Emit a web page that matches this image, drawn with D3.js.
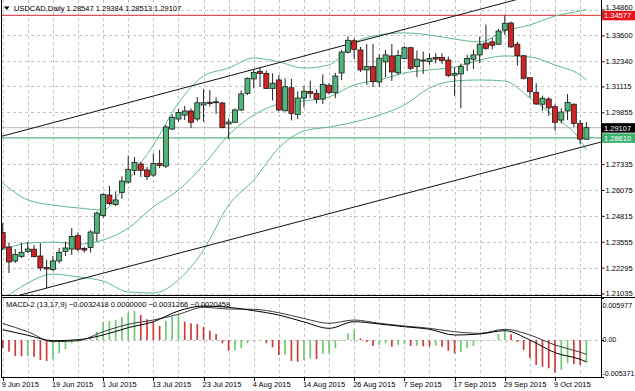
<!DOCTYPE html>
<html>
<head>
<meta charset="utf-8">
<script src="https://cdn.jsdelivr.net/npm/d3@7"></script>
<style>
    body { margin: 0; background: #fff; }
    svg { display: block; font-family: "Liberation Sans", Arial, sans-serif; font-size: 7.5px; }
    .grid line { stroke: #c4c4c4; stroke-dasharray: 3,3; shape-rendering: crispEdges; }
    .frame line { stroke: #000; shape-rendering: crispEdges; }
</style>
</head>
<body>
<svg id="chart" width="635" height="391"></svg>
<script>
// daily bars 2015: date, open, high, low, close
const bars = [
    ["06-09",1.2400,1.2447,1.2315,1.2325], ["06-10",1.2330,1.2349,1.2203,1.2257],
    ["06-11",1.2262,1.2320,1.2252,1.2293], ["06-12",1.2284,1.2349,1.2276,1.2304],
    ["06-15",1.2308,1.2354,1.2301,1.2320], ["06-16",1.2319,1.2340,1.2279,1.2283],
    ["06-17",1.2286,1.2349,1.2213,1.2228], ["06-18",1.2230,1.2267,1.2128,1.2223],
    ["06-19",1.2220,1.2286,1.2213,1.2262], ["06-22",1.2262,1.2325,1.2250,1.2304],
    ["06-23",1.2308,1.2357,1.2286,1.2325], ["06-24",1.2320,1.2422,1.2291,1.2381],
    ["06-25",1.2385,1.2400,1.2308,1.2319], ["06-26",1.2323,1.2331,1.2303,1.2315],
    ["06-29",1.2327,1.2411,1.2303,1.2403], ["06-30",1.2397,1.2502,1.2357,1.2495],
    ["07-01",1.2483,1.2591,1.2471,1.2585], ["07-02",1.2583,1.2628,1.2534,1.2541],
    ["07-03",1.2537,1.2600,1.2529,1.2559], ["07-06",1.2596,1.2674,1.2564,1.2651],
    ["07-07",1.2646,1.2775,1.2638,1.2708], ["07-08",1.2703,1.2768,1.2680,1.2742],
    ["07-09",1.2734,1.2744,1.2671,1.2703], ["07-10",1.2705,1.2719,1.2656,1.2673],
    ["07-13",1.2680,1.2785,1.2671,1.2736], ["07-14",1.2737,1.2802,1.2714,1.2727],
    ["07-15",1.2724,1.2924,1.2714,1.2914], ["07-16",1.2904,1.2975,1.2899,1.2961],
    ["07-17",1.2953,1.3002,1.2940,1.2985], ["07-20",1.2972,1.3016,1.2948,1.2992],
    ["07-21",1.2992,1.3004,1.2909,1.2937], ["07-22",1.2953,1.3060,1.2943,1.3032],
    ["07-23",1.3021,1.3098,1.2940,1.3032], ["07-24",1.3034,1.3094,1.3014,1.3032],
    ["07-27",1.3032,1.3058,1.2977,1.3037], ["07-28",1.3031,1.3036,1.2907,1.2912],
    ["07-29",1.2929,1.2955,1.2856,1.2938], ["07-30",1.2937,1.3005,1.2933,1.2997],
    ["07-31",1.2997,1.3092,1.2992,1.3075], ["08-03",1.3078,1.3155,1.3070,1.3151],
    ["08-04",1.3148,1.3196,1.3102,1.3179], ["08-05",1.3185,1.3206,1.3109,1.3175],
    ["08-06",1.3175,1.3189,1.3099,1.3102], ["08-07",1.3102,1.3175,1.3043,1.3127],
    ["08-10",1.3143,1.3167,1.2990,1.2997], ["08-11",1.2993,1.3151,1.2990,1.3110],
    ["08-12",1.3105,1.3148,1.2946,1.2980], ["08-13",1.2975,1.3087,1.2952,1.3055],
    ["08-14",1.3055,1.3114,1.3009,1.3088], ["08-17",1.3087,1.3140,1.3054,1.3078],
    ["08-18",1.3078,1.3097,1.3029,1.3049], ["08-19",1.3050,1.3170,1.3026,1.3122],
    ["08-20",1.3117,1.3128,1.3073,1.3081], ["08-21",1.3081,1.3177,1.3055,1.3162],
    ["08-24",1.3177,1.3289,1.3143,1.3279], ["08-25",1.3278,1.3355,1.3272,1.3336],
    ["08-26",1.3334,1.3346,1.3244,1.3292], ["08-27",1.3289,1.3304,1.3182,1.3192],
    ["08-28",1.3192,1.3318,1.3119,1.3208], ["08-31",1.3208,1.3318,1.3109,1.3135],
    ["09-01",1.3133,1.3269,1.3110,1.3249], ["09-02",1.3231,1.3289,1.3157,1.3265],
    ["09-03",1.3260,1.3318,1.3138,1.3182], ["09-04",1.3178,1.3289,1.3167,1.3262],
    ["09-07",1.3247,1.3308,1.3243,1.3300], ["09-08",1.3300,1.3304,1.3192,1.3200],
    ["09-09",1.3208,1.3286,1.3156,1.3244], ["09-10",1.3239,1.3281,1.3172,1.3240],
    ["09-11",1.3232,1.3273,1.3216,1.3248], ["09-14",1.3252,1.3273,1.3224,1.3245],
    ["09-15",1.3252,1.3273,1.3221,1.3238], ["09-16",1.3240,1.3256,1.3157,1.3165],
    ["09-17",1.3166,1.3204,1.3065,1.3175], ["09-18",1.3172,1.3223,1.3005,1.3208],
    ["09-21",1.3221,1.3265,1.3187,1.3247], ["09-22",1.3244,1.3291,1.3196,1.3265],
    ["09-23",1.3265,1.3354,1.3226,1.3317], ["09-24",1.3322,1.3413,1.3289,1.3297],
    ["09-25",1.3328,1.3347,1.3291,1.3312], ["09-28",1.3317,1.3391,1.3313,1.3381],
    ["09-29",1.3386,1.34577,1.3362,1.3419], ["09-30",1.3420,1.3427,1.3299,1.3304],
    ["10-01",1.3317,1.3329,1.3213,1.3261], ["10-02",1.3261,1.3265,1.3145,1.3151],
    ["10-05",1.3154,1.3157,1.3059,1.3086], ["10-06",1.3083,1.3127,1.3021,1.3026],
    ["10-07",1.3025,1.3067,1.2993,1.3054], ["10-08",1.3050,1.3060,1.2968,1.3007],
    ["10-09",1.3013,1.3024,1.2896,1.2937], ["10-12",1.2948,1.3005,1.2931,1.2987],
    ["10-13",1.2992,1.3075,1.2948,1.3033], ["10-14",1.3025,1.3028,1.2914,1.2932],
    ["10-15",1.2932,1.2948,1.2831,1.2855], ["10-16",1.28547,1.29384,1.28513,1.29107]
];

// bollinger bands, read every 4th bar plus the last one
const bandDates = ["06-09","06-15","06-19","06-25","07-01","07-07","07-13","07-17","07-23","07-29",
    "08-04","08-10","08-14","08-20","08-26","09-01","09-07","09-11","09-17","09-23",
    "09-29","10-05","10-09","10-15","10-16"];
const bbUpper = [1.2641,1.2559,1.2534,1.2520,1.2510,1.2656,1.2826,1.3031,1.3162,1.3201,
    1.3250,1.3231,1.3201,1.3216,1.3323,1.3362,1.3372,1.3362,1.3342,1.3328,
    1.3381,1.3411,1.3454,1.3479,1.3486];
const bbMiddle = [1.2315,1.2349,1.2354,1.2344,1.2364,1.2422,1.2525,1.2607,1.2729,1.2875,
    1.2972,1.3026,1.3041,1.3060,1.3119,1.3143,1.3177,1.3192,1.3206,1.3240,
    1.3260,1.3255,1.3216,1.3167,1.3143];
const bbLower = [1.2072,1.2155,1.2198,1.2184,1.2164,1.2111,1.2106,1.2169,1.2315,1.2534,
    1.2656,1.2812,1.2895,1.2914,1.2938,1.2972,1.3021,1.3104,1.3138,1.3143,
    1.3138,1.3055,1.2963,1.2851,1.2802];

// MACD-2 (13,17,9)
const macdHist = [-0.00115,-0.00168,-0.00230,-0.00234,-0.00229,-0.00240,-0.00287,-0.00302,-0.00277,-0.00191,
    -0.00134,-0.00047,-0.00022,-0.00007,0.00047,0.00119,0.00263,0.00273,0.00287,0.00335,
    0.00392,0.00417,0.00359,0.00297,0.00263,0.00201,0.00277,0.00335,0.00373,0.00263,
    0.00240,0.00230,0.00191,0.00134,0.00086,-0.00047,-0.00154,-0.00144,-0.00119,-0.00047,
    -0.00010,-0.00004,-0.00047,-0.00105,-0.00215,-0.00208,-0.00302,-0.00312,-0.00287,-0.00266,
    -0.00273,-0.00201,-0.00191,-0.00119,-0.00014,0.00096,0.00144,0.00024,-0.00029,-0.00086,
    -0.00072,-0.00047,-0.00096,-0.00072,-0.00065,-0.00086,-0.00083,-0.00089,-0.00096,-0.00082,
    -0.00096,-0.00154,-0.00191,-0.00168,-0.00119,-0.00086,-0.00007,-0.00004,0.00003,0.00086,
    0.00144,0.00082,-0.00029,-0.00144,-0.00263,-0.00359,-0.00384,-0.00406,-0.00470,-0.00431,
    -0.00335,-0.00345,-0.00359,-0.0032418];
const macdMain = [0.00148,0.00068,-0.00010,0.00004,0.00072,0.00177,0.00263,0.00417,0.00488,0.00470,
    0.00421,0.00359,0.00259,0.00168,0.00263,0.00230,0.00191,0.00154,0.00072,0.00086,
    0.00134,0.00000,-0.00182,-0.00277,-0.0031266];
const macdSignal = [0.00237,0.00119,-0.00024,-0.00010,0.00119,0.00226,0.00287,0.00369,0.00470,0.00445,
    0.00441,0.00392,0.00309,0.00240,0.00287,0.00240,0.00201,0.00168,0.00119,0.00096,
    0.00154,0.00072,-0.00072,-0.00175,-0.0020458];

// axis labels
const priceTicks = [1.34860,1.33600,1.32340,1.31115,1.29855,1.27335,1.26075,1.24815,1.23555,1.22295,1.21035];
const macdTicks = [[0.005977,"0.005977"],[0,"0.00"],[-0.005371,"-0.005371"]];
const dateTicks = [["06-09","9 Jun 2015"],["06-19","19 Jun 2015"],["07-01","1 Jul 2015"],["07-13","13 Jul 2015"],
    ["07-23","23 Jul 2015"],["08-04","4 Aug 2015"],["08-14","14 Aug 2015"],["08-26","26 Aug 2015"],
    ["09-07","7 Sep 2015"],["09-17","17 Sep 2015"],["09-29","29 Sep 2015"],["10-09","9 Oct 2015"]];

// horizontal lines and channel
const resistance = 1.34577;
const support = 1.28610;
const upperChannel = [["06-09",1.2870],["09-28",1.3511]];
const lowerChannel = [["06-18",1.2130],["10-16",1.2822]];

const svg = d3.select("#chart");
const left = 1, right = 601;

const x = d3.scalePoint().domain(bars.map(d => d[0])).range([2.7, 586.4]);
const y = d3.scaleLinear().domain([1.21035, 1.34860]).range([293.5, 9.5]);
const ym = d3.scaleLinear().domain([-0.005371, 0.005977]).range([377.4, 298.4]);

const defs = svg.append("defs");
defs.append("clipPath").attr("id", "clipMain").append("rect")
    .attr("x", left).attr("y", 0).attr("width", right - left).attr("height", 295.5);
defs.append("clipPath").attr("id", "clipSub").append("rect")
    .attr("x", left).attr("y", 298).attr("width", right - left).attr("height", 79);

// grid
const grid = svg.append("g").attr("class", "grid");
const gridDates = bars.filter((d, i) => i % 4 === 0).map(d => d[0]);
gridDates.forEach(d => {
    grid.append("line").attr("x1", Math.round(x(d)) + 0.5).attr("x2", Math.round(x(d)) + 0.5).attr("y1", 0).attr("y2", 295);
    grid.append("line").attr("x1", Math.round(x(d)) + 0.5).attr("x2", Math.round(x(d)) + 0.5).attr("y1", 298).attr("y2", 377);
});
grid.selectAll(".h").data(priceTicks).join("line")
    .attr("x1", left).attr("x2", right)
    .attr("y1", d => Math.round(y(d)) + 0.5).attr("y2", d => Math.round(y(d)) + 0.5);
grid.append("line").attr("x1", left).attr("x2", right)
    .attr("y1", Math.round(ym(0)) + 0.5).attr("y2", Math.round(ym(0)) + 0.5);

// main panel
const main = svg.append("g").attr("clip-path", "url(#clipMain)");

main.append("line").attr("x1", left).attr("x2", right)
    .attr("y1", y(resistance)).attr("y2", y(resistance))
    .attr("stroke", "#e0262b").attr("stroke-width", 1);
main.append("line").attr("x1", left).attr("x2", right)
    .attr("y1", y(bars[bars.length - 1][4])).attr("y2", y(bars[bars.length - 1][4]))
    .attr("stroke", "#b8b8b8").attr("stroke-width", 1);
main.append("line").attr("x1", left).attr("x2", right)
    .attr("y1", y(support)).attr("y2", y(support))
    .attr("stroke", "#5ab887").attr("stroke-width", 1.4);

const bandLine = d3.line().x((d, i) => x(bandDates[i])).y(d => y(d)).curve(d3.curveMonotoneX);
[bbUpper, bbMiddle, bbLower].forEach(band => {
    main.append("path").attr("d", bandLine(band))
        .attr("fill", "none").attr("stroke", "#5fb98b").attr("stroke-width", 1);
});

function ray(pts) {
    const [a, b] = pts.map(p => [x(p[0]), y(p[1])]);
    const k = (b[1] - a[1]) / (b[0] - a[0]);
    return [[left, a[1] + k * (left - a[0])], [right, a[1] + k * (right - a[0])]];
}
[upperChannel, lowerChannel].forEach(ch => {
    const r = ray(ch);
    main.append("line").attr("x1", r[0][0]).attr("y1", r[0][1]).attr("x2", r[1][0]).attr("y2", r[1][1])
        .attr("stroke", "#111").attr("stroke-width", 1);
});

const candle = main.append("g").selectAll("g").data(bars).join("g");
candle.append("line")
    .attr("x1", d => x(d[0])).attr("x2", d => x(d[0]))
    .attr("y1", d => y(d[2])).attr("y2", d => y(d[3]))
    .attr("stroke", "#222").attr("stroke-width", 1);
candle.append("rect")
    .attr("x", d => x(d[0]) - 2.5).attr("width", 5)
    .attr("y", d => y(Math.max(d[1], d[4])))
    .attr("height", d => Math.max(1, Math.abs(y(d[1]) - y(d[4]))))
    .attr("fill", d => d[4] >= d[1] ? "#4fb57a" : "#cf2424")
    .attr("stroke", "#1a1a1a").attr("stroke-width", 0.8);

// MACD panel
const sub = svg.append("g").attr("clip-path", "url(#clipSub)");
sub.selectAll("line.hist").data(macdHist).join("line")
    .attr("class", "hist")
    .attr("x1", (d, i) => x(bars[i][0])).attr("x2", (d, i) => x(bars[i][0]))
    .attr("y1", ym(0)).attr("y2", d => ym(d))
    .attr("stroke", (d, i) => i > 0 && d > macdHist[i - 1] ? "#72c872" : "#cf3b3b")
    .attr("stroke-width", 1.7);

const macdLine = d3.line().x((d, i) => x(bandDates[i])).y(d => ym(d)).curve(d3.curveMonotoneX);
sub.append("path").attr("d", macdLine(macdSignal)).attr("fill", "none").attr("stroke", "#3a3a3a").attr("stroke-width", 1);
sub.append("path").attr("d", macdLine(macdMain)).attr("fill", "none").attr("stroke", "#000").attr("stroke-width", 1);

// frame
const frame = svg.append("g").attr("class", "frame");
frame.append("line").attr("x1", 1.5).attr("x2", 1.5).attr("y1", 0).attr("y2", 378);
frame.append("line").attr("x1", 601.5).attr("x2", 601.5).attr("y1", 0).attr("y2", 378);
frame.append("line").attr("x1", 1).attr("x2", 602).attr("y1", 295.5).attr("y2", 295.5);
frame.append("line").attr("x1", 1).attr("x2", 635).attr("y1", 297.5).attr("y2", 297.5);
frame.append("line").attr("x1", 1).attr("x2", 602).attr("y1", 377.5).attr("y2", 377.5);

// right price axis
const axisR = d3.axisRight(y).tickValues(priceTicks).tickSize(3).tickFormat(d3.format(".5f"));
svg.append("g").attr("transform", "translate(601.5,0)").call(axisR)
    .attr("font-size", null).attr("font-family", null)
    .call(g => g.select(".domain").remove())
    .call(g => g.selectAll("text").attr("x", 4).attr("fill", "#000"))
    .call(g => g.selectAll("text").filter(d => d === priceTicks[0]).attr("dy", "0.05em"));

// price boxes
const boxes = [[resistance, "#e8141c"], [bars[bars.length - 1][4], "#000"], [support, "#3daf6f"]];
boxes.forEach(([v, c]) => {
    svg.append("rect").attr("x", 602).attr("y", y(v) - 4.5).attr("width", 33).attr("height", 9.5).attr("fill", c);
    svg.append("text").attr("x", 604).attr("y", y(v) + 0.3).attr("dy", "0.34em")
        .attr("fill", "#fff").text(d3.format(".5f")(v));
});

// MACD axis
macdTicks.forEach(([v, t], i) => {
    const yy = i === 0 ? ym(v) + 7 : i === 2 ? ym(v) - 4 : ym(v);
    svg.append("line").attr("x1", 601.5).attr("x2", 604).attr("y1", Math.round(ym(v)) + 0.5).attr("y2", Math.round(ym(v)) + 0.5).attr("stroke", "#000");
    svg.append("text").attr("x", 602.5).attr("y", yy).attr("dy", "0.34em")
        .attr("font-size", "7.1px").text(t);
});

// date axis
dateTicks.forEach(([d, t]) => {
    const xx = Math.round(x(d)) + 0.5;
    svg.append("line").attr("x1", xx).attr("x2", xx).attr("y1", 377.5).attr("y2", 381).attr("stroke", "#000");
    svg.append("text").attr("x", x(d) - 1).attr("y", 387).text(t);
});

// titles
const last = bars[bars.length - 1];
svg.append("path").attr("d", "M4,6.5L9.5,6.5L6.75,10Z").attr("fill", "#000");
svg.append("text").attr("x", 14).attr("y", 11)
    .text("USDCAD,Daily  " + last.slice(1).map(d3.format(".5f")).join(" "));
svg.append("text").attr("x", 6).attr("y", 307)
    .text("MACD-2 (13,17,9) " + [macdHist[macdHist.length - 1], 0, macdMain[macdMain.length - 1], macdSignal[macdSignal.length - 1]]
        .map(d3.format(".7f")).join(" "));
</script>
</body>
</html>
